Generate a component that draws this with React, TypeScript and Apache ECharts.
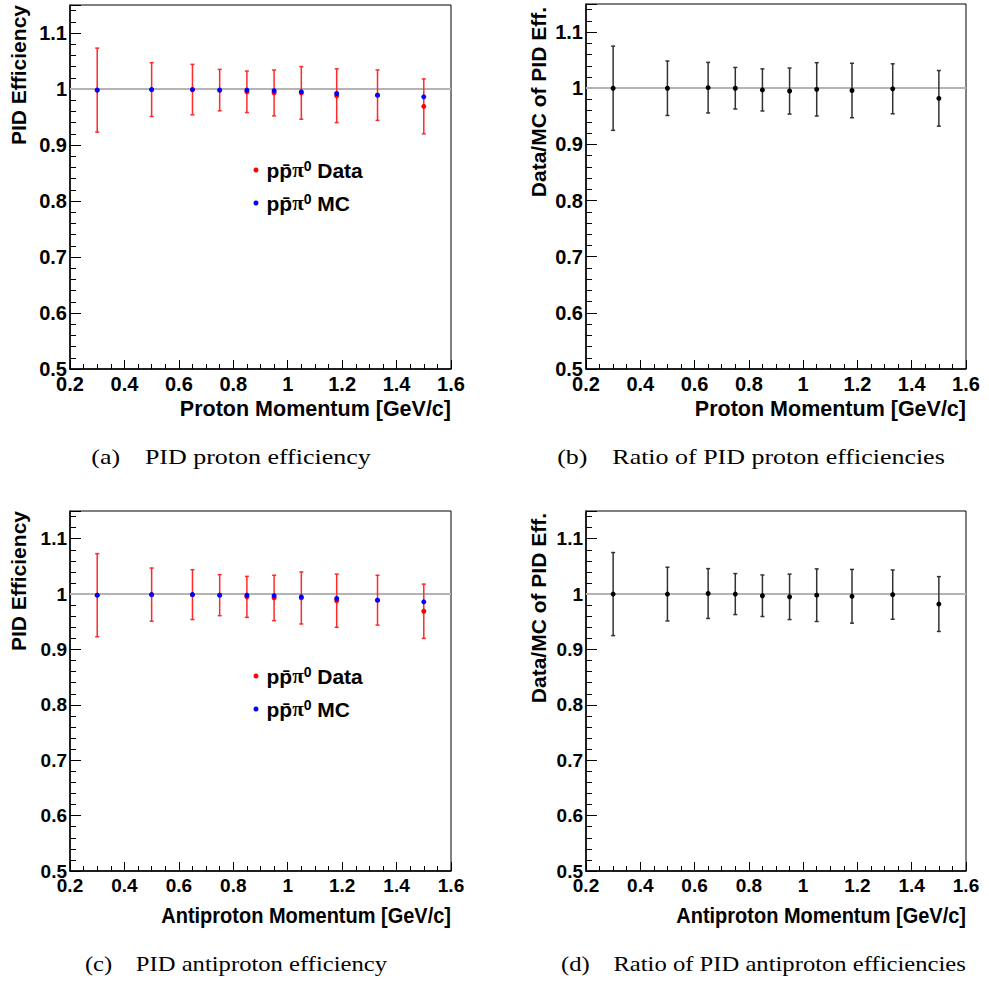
import React, { useEffect, useRef } from "react";
import * as echarts from "echarts";

// ---- data ----
const momentum = [0.3, 0.5, 0.65, 0.75, 0.85, 0.95, 1.05, 1.18, 1.33, 1.5];

const protonEffData = [0.998, 0.999, 0.999, 0.998, 0.995, 0.993, 0.993, 0.988, 0.989, 0.969];
const protonEffDataErr = [0.075, 0.048, 0.045, 0.037, 0.037, 0.041, 0.047, 0.048, 0.045, 0.049];
const protonEffMC = [0.998, 0.999, 0.999, 0.998, 0.998, 0.997, 0.995, 0.992, 0.989, 0.986];
const protonRatio = [1.0, 1.0, 1.001, 1.0, 0.997, 0.995, 0.998, 0.996, 0.999, 0.982];
const protonRatioErr = [0.075, 0.0485, 0.045, 0.037, 0.0375, 0.041, 0.0475, 0.0485, 0.0445, 0.0495];

const antiprotonEffData = [0.998, 0.999, 0.999, 0.998, 0.995, 0.993, 0.993, 0.988, 0.989, 0.969];
const antiprotonEffDataErr = [0.075, 0.048, 0.045, 0.037, 0.037, 0.041, 0.047, 0.048, 0.045, 0.049];
const antiprotonEffMC = [0.998, 0.999, 0.999, 0.998, 0.998, 0.997, 0.995, 0.992, 0.989, 0.986];
const antiprotonRatio = [1.0, 1.0, 1.001, 1.0, 0.997, 0.995, 0.998, 0.996, 0.999, 0.982];
const antiprotonRatioErr = [0.075, 0.0485, 0.045, 0.037, 0.0375, 0.041, 0.0475, 0.0485, 0.0445, 0.0495];

const xTitles = [
  "Proton Momentum [GeV/c]",
  "Proton Momentum [GeV/c]",
  "Antiproton Momentum [GeV/c]",
  "Antiproton Momentum [GeV/c]",
];
const yTitles = ["PID Efficiency", "Data/MC of PID Eff.", "PID Efficiency", "Data/MC of PID Eff."];
const captionTags = ["(a)", "(b)", "(c)", "(d)"];
const captionTexts = [
  "PID proton efficiency",
  "Ratio of PID proton efficiencies",
  "PID antiproton efficiency",
  "Ratio of PID antiproton efficiencies",
];
const legendNames = ["Data", "MC"];

const SANS = '"Liberation Sans", Arial, Helvetica, sans-serif';
const SERIF = '"Liberation Serif", "Times New Roman", serif';

// layout of the four panels (pixels)
const grids = [
  { left: 70, top: 5, width: 381, height: 364 },
  { left: 586, top: 4, width: 380, height: 365 },
  { left: 70, top: 511, width: 381, height: 360 },
  { left: 586, top: 511, width: 380, height: 360 },
];
// top row is rendered a little wider horizontally than the bottom row
const rowScaleX = [1.0, 1.0, 0.93, 0.93];
const tickFont = [20, 20, 19, 19];
const captionPos = [
  [231, 457],
  [751, 457],
  [236, 963],
  [763.5, 963],
];
const captionScale = [1.18, 1.18, 1.12, 1.12];
const yTitlePos = [
  [18.5, 5],
  [538, 7],
  [18.5, 511],
  [538, 513],
];
const xTitlePos = [
  [451, 409],
  [966, 409],
  [451, 915],
  [966, 915],
];

const fmt = (v: number) => {
  const r = Math.round(v * 10) / 10;
  if (Math.abs(v - r) > 1e-6) return "";
  return String(parseFloat(r.toFixed(1)));
};

function errorBars(name: string, gi: number, vals: number[], errs: number[], color: string, withLine: boolean) {
  const s: any = {
    name,
    type: "custom",
    xAxisIndex: gi,
    yAxisIndex: gi,
    z: 2,
    silent: true,
    data: momentum.map((m, i) => [m, vals[i] - errs[i], vals[i] + errs[i]]),
    encode: { x: 0, y: [1, 2] },
    renderItem: (_p: any, api: any) => {
      const x = api.value(0);
      const lo = api.coord([x, api.value(1)]);
      const hi = api.coord([x, api.value(2)]);
      const cap = 2;
      const st = { stroke: color, lineWidth: 1.5 };
      return {
        type: "group",
        children: [
          { type: "line", shape: { x1: lo[0], y1: lo[1], x2: hi[0], y2: hi[1] }, style: st },
          { type: "line", shape: { x1: lo[0] - cap, y1: lo[1], x2: lo[0] + cap, y2: lo[1] }, style: st },
          { type: "line", shape: { x1: hi[0] - cap, y1: hi[1], x2: hi[0] + cap, y2: hi[1] }, style: st },
        ],
      };
    },
  };
  if (withLine) {
    s.markLine = {
      silent: true,
      symbol: "none",
      label: { show: false },
      lineStyle: { color: "#b4b4b4", width: 2, type: "solid" },
      emphasis: { disabled: true },
      data: [{ yAxis: 1 }],
      z: 1,
    };
  }
  return s;
}

function points(name: string, gi: number, vals: number[], color: string, z: number) {
  return {
    name,
    type: "scatter",
    xAxisIndex: gi,
    yAxisIndex: gi,
    z,
    symbol: "circle",
    symbolSize: 5,
    itemStyle: { color, opacity: 1 },
    emphasis: { disabled: true },
    data: momentum.map((m, i) => [m, vals[i]]),
  };
}

export default function App() {
  const ref = useRef<HTMLDivElement>(null);
  useEffect(() => {
    if (!ref.current) return;
    const chart = echarts.init(ref.current, undefined, { renderer: "svg" });

    const xAxes = grids.map((_, gi) => ({
      gridIndex: gi,
      type: "value",
      min: 0.2,
      max: 1.6,
      interval: 0.2,
      axisLine: { onZero: false, lineStyle: { color: "#000", width: 1.5 } },
      axisTick: { inside: true, length: 9, lineStyle: { color: "#000", width: 1 } },
      minorTick: { show: true, splitNumber: 4, length: 5, lineStyle: { color: "#000", width: 1 } },
      splitLine: { show: false },
      axisLabel: {
        color: "#000",
        fontFamily: SANS,
        fontWeight: "bold",
        fontSize: tickFont[gi],
        margin: 5,
        formatter: (v: number) => {
          const r = Math.round(v * 5) / 5;
          if (Math.abs(v - r) > 1e-6) return "";
          return String(parseFloat(r.toFixed(1)));
        },
      },
    }));
    const yAxes = grids.map((_, gi) => ({
      gridIndex: gi,
      type: "value",
      min: 0.5,
      max: 1.15,
      interval: 0.1,
      axisLine: { onZero: false, lineStyle: { color: "#000", width: 1.5 } },
      axisTick: { inside: true, length: 11, lineStyle: { color: "#000", width: 1 } },
      minorTick: { show: true, splitNumber: 5, length: 6, lineStyle: { color: "#000", width: 1 } },
      splitLine: { show: false },
      axisLabel: {
        color: "#000",
        fontFamily: SANS,
        fontWeight: "bold",
        fontSize: tickFont[gi],
        margin: 3,
        formatter: fmt,
      },
    }));

    const legendRich = {
      p: { fontFamily: SANS, fontWeight: "bold", fontSize: 21, color: "#000" },
      pi: { fontFamily: SERIF, fontWeight: "bold", fontSize: 21, color: "#000" },
      s: { fontFamily: SANS, fontWeight: "bold", fontSize: 14, color: "#000", verticalAlign: "top" },
    };
    const legendFormatter = (n: string) =>
      "{p|pp\u0304}{pi|\u03c0}{s|0}{p| " + n + "}";

    const legends = [0, 2].map((gi) => ({
      show: true,
      orient: "vertical",
      left: 248.5,
      top: grids[gi].top + 149,
      itemGap: 11,
      itemWidth: 5,
      itemHeight: 5,
      icon: "circle",
      selectedMode: false,
      data: legendNames,
      formatter: legendFormatter,
      textStyle: { padding: [0, 0, 0, 3], lineHeight: 22, rich: legendRich },
    }));

    const series: any[] = [
      // (a) proton efficiency
      errorBars("dataErrA", 0, protonEffData, protonEffDataErr, "#ff2a2a", true),
      points(legendNames[0], 0, protonEffData, "#ff0000", 3),
      points(legendNames[1], 0, protonEffMC, "#0000ff", 4),
      // (b) proton ratio
      errorBars("ratioErrB", 1, protonRatio, protonRatioErr, "#333333", true),
      points("RatioB", 1, protonRatio, "#000000", 3),
      // (c) antiproton efficiency
      errorBars("dataErrC", 2, antiprotonEffData, antiprotonEffDataErr, "#ff2a2a", true),
      points(legendNames[0], 2, antiprotonEffData, "#ff0000", 3),
      points(legendNames[1], 2, antiprotonEffMC, "#0000ff", 4),
      // (d) antiproton ratio
      errorBars("ratioErrD", 3, antiprotonRatio, antiprotonRatioErr, "#333333", true),
      points("RatioD", 3, antiprotonRatio, "#000000", 3),
    ];

    const graphics: any[] = [];
    for (let i = 0; i < 4; i++) {
      graphics.push({
        type: "text",
        x: xTitlePos[i][0],
        y: xTitlePos[i][1],
        scaleX: rowScaleX[i],
        silent: true,
        style: {
          text: xTitles[i],
          font: `bold 21.5px ${SANS}`,
          fill: "#000",
          align: "right",
          textAlign: "right",
          verticalAlign: "middle",
          textVerticalAlign: "middle",
        },
      });
      graphics.push({
        type: "text",
        x: yTitlePos[i][0],
        y: yTitlePos[i][1],
        rotation: Math.PI / 2,
        silent: true,
        style: {
          text: yTitles[i],
          font: `bold 21px ${SANS}`,
          fill: "#000",
          align: "right",
          textAlign: "right",
          verticalAlign: "middle",
          textVerticalAlign: "middle",
        },
      });
      graphics.push({
        type: "text",
        x: captionPos[i][0],
        y: captionPos[i][1],
        scaleX: captionScale[i],
        silent: true,
        style: {
          text: "{l|" + captionTags[i] + "}{r|" + captionTexts[i] + "}",
          fill: "#000",
          align: "center",
          textAlign: "center",
          verticalAlign: "middle",
          textVerticalAlign: "middle",
          rich: {
            l: { fontFamily: SERIF, fontSize: 22, fill: "#000", padding: [0, 21, 0, 0] },
            r: { fontFamily: SERIF, fontSize: 22, fill: "#000" },
          },
        },
      });
    }

    chart.setOption({
      animation: false,
      backgroundColor: "#ffffff",
      grid: grids.map((g) => ({
        ...g,
        show: true,
        borderColor: "#000",
        borderWidth: 1,
        backgroundColor: "transparent",
        containLabel: false,
      })),
      xAxis: xAxes,
      yAxis: yAxes,
      legend: legends,
      series,
      graphic: graphics,
    });
    return () => chart.dispose();
  }, []);
  return (
    <div
      ref={ref}
      style={{ position: "absolute", left: 0, top: 0, width: 989, height: 983, background: "#fff" }}
    />
  );
}
